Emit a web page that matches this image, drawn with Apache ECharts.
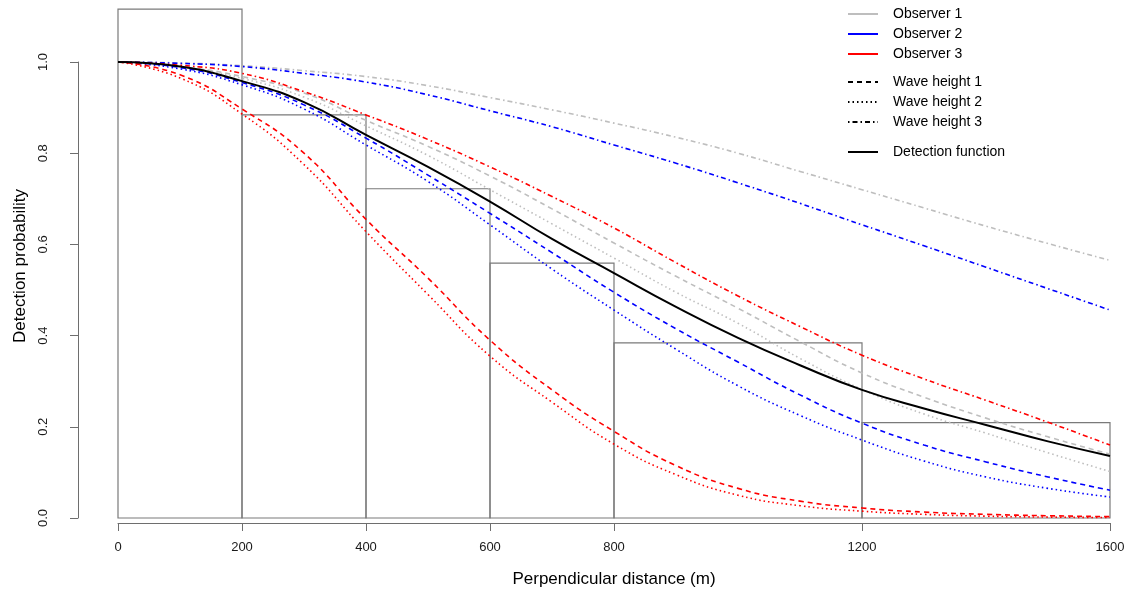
<!DOCTYPE html>
<html>
<head>
<meta charset="utf-8">
<script src="https://cdn.jsdelivr.net/npm/echarts@6/dist/echarts.min.js"></script>
<style>html,body{margin:0;padding:0;background:#fff;}#c{width:1136px;height:594px;}</style>
</head>
<body>
<div id="c"></div>
<script>
// ---- data ----
const distances = [0,100,200,300,400,500,600,700,800,900,1000,1100,1200,1300,1400,1500,1600];
const obs1Wave1 = [1,0.99,0.968,0.932,0.872,0.815,0.75,0.678,0.603,0.53,0.46,0.387,0.318,0.265,0.219,0.178,0.14];
const obs1Wave2 = [1,0.99,0.964,0.923,0.86,0.795,0.72,0.645,0.57,0.495,0.427,0.35,0.282,0.228,0.186,0.143,0.102];
const obs1Wave3 = [1,0.998,0.992,0.981,0.968,0.948,0.922,0.895,0.866,0.835,0.80,0.76,0.72,0.68,0.64,0.602,0.565];
const obs2Wave1 = [1,0.988,0.955,0.906,0.833,0.752,0.668,0.582,0.495,0.415,0.342,0.27,0.208,0.16,0.123,0.09,0.061];
const obs2Wave2 = [1,0.985,0.95,0.897,0.818,0.738,0.643,0.546,0.456,0.37,0.29,0.225,0.171,0.125,0.09,0.065,0.046];
const obs2Wave3 = [1,0.997,0.99,0.975,0.956,0.928,0.893,0.858,0.818,0.778,0.735,0.69,0.643,0.597,0.55,0.503,0.456];
const obs3Wave1 = [1,0.972,0.897,0.80,0.655,0.526,0.39,0.281,0.19,0.115,0.065,0.037,0.022,0.013,0.008,0.005,0.003];
const obs3Wave2 = [1,0.965,0.886,0.775,0.628,0.49,0.355,0.254,0.162,0.095,0.05,0.027,0.015,0.008,0.004,0.002,0.001];
const obs3Wave3 = [1,0.993,0.975,0.935,0.884,0.83,0.77,0.705,0.636,0.56,0.487,0.42,0.357,0.305,0.258,0.21,0.16];
const detectionFn = [1,0.99,0.958,0.912,0.84,0.77,0.694,0.612,0.537,0.463,0.395,0.335,0.281,0.24,0.204,0.168,0.136];

const binEdges = [0,200,400,600,800,1200,1600];
const binHeights = [1.116,0.884,0.722,0.559,0.384,0.209];

const xTicks = [0,200,400,600,800,1200,1600];
const observers = ['Observer 1','Observer 2','Observer 3'];
const waves = ['Wave height 1','Wave height 2','Wave height 3'];

// ---- styles ----
const FONT = '"Liberation Sans", Arial, sans-serif';
const obsColors = ['#BEBEBE','#0000FF','#FF0000'];
const waveDash = [[5,4],[1.5,3],[1.5,3,5,3]];
const curves = [
  [obs1Wave1,obs1Wave2,obs1Wave3],
  [obs2Wave1,obs2Wave2,obs2Wave3],
  [obs3Wave1,obs3Wave2,obs3Wave3]
];

const pairs = arr => distances.map((d,i)=>[d,arr[i]]);
const bins = binHeights.map((h,i)=>[binEdges[i],binEdges[i+1],h]);

const series = [];
series.push({
  type:'custom', name:'hist', clip:false, silent:true, z:1,
  data: bins,
  renderItem: function(params, api){
    const p0 = api.coord([api.value(0), 0]);
    const p1 = api.coord([api.value(1), api.value(2)]);
    return {type:'rect', shape:{x:p0[0], y:p1[1], width:p1[0]-p0[0], height:p0[1]-p1[1]},
      style:{fill:'none', stroke:'#7a7a7a', lineWidth:1.2}};
  }
});
for (let o=0;o<3;o++){
  for (let w=0;w<3;w++){
    series.push({
      type:'line', name:observers[o]+' / '+waves[w], data:pairs(curves[o][w]),
      symbol:'none', smooth:0.5, clip:false, z:3,
      lineStyle:{color:obsColors[o], width:1.6, type:waveDash[w]}
    });
  }
}
series.push({
  type:'line', name:'Detection function', data:pairs(detectionFn),
  symbol:'none', smooth:0.5, z:4,
  lineStyle:{color:'#000', width:2, type:'solid'}, itemStyle:{color:'#000'}
});
// legend-only entries
observers.forEach((n,o)=>series.push({type:'line', name:n, data:[], symbol:'none',
  lineStyle:{color:obsColors[o], width:1.6, type:'solid'}, itemStyle:{color:obsColors[o]}}));
waves.forEach((n,w)=>series.push({type:'line', name:n, data:[], symbol:'none',
  lineStyle:{color:'#000', width:1.3, type:waveDash[w]}, itemStyle:{color:'#000'}}));

const legendBase = {orient:'vertical', left:847, itemWidth:30, itemHeight:14, itemGap:6, padding:0,
  selectedMode:false, itemStyle:{opacity:0, borderWidth:0},
  textStyle:{fontFamily:FONT, fontSize:14, color:'#000', lineHeight:14, padding:[0,0,0,10]}};

const chart = echarts.init(document.getElementById('c'), null, {renderer:'canvas'});
chart.setOption({
  animation:false,
  backgroundColor:'#fff',
  grid:{left:118, right:26, top:62, bottom:76, containLabel:false},
  xAxis:{type:'value', min:0, max:1600, offset:5,
    axisLine:{show:true, onZero:false, lineStyle:{color:'#6e6e6e', width:1}},
    axisTick:{show:true, length:8, customValues:xTicks, lineStyle:{color:'#6e6e6e'}},
    axisLabel:{customValues:xTicks, margin:18, fontFamily:FONT, fontSize:13, color:'#1a1a1a',
      formatter:v=>String(v)},
    splitLine:{show:false},
    name:'Perpendicular distance (m)', nameLocation:'middle', nameGap:48,
    nameTextStyle:{fontFamily:FONT, fontSize:17, color:'#000'}
  },
  yAxis:{type:'value', min:0, max:1, interval:0.2, offset:40, position:'left',
    axisLine:{show:true, onZero:false, lineStyle:{color:'#6e6e6e', width:1}},
    axisTick:{show:true, length:8, lineStyle:{color:'#6e6e6e'}},
    axisLabel:{rotate:90, margin:28, fontFamily:FONT, fontSize:13, color:'#1a1a1a',
      formatter:v=>v.toFixed(1)},
    splitLine:{show:false}
  },
  legend:[
    Object.assign({}, legendBase, {top:7, data:observers}),
    Object.assign({}, legendBase, {top:75, data:waves}),
    Object.assign({}, legendBase, {top:145, data:['Detection function']})
  ],
  graphic:[{type:'text', x:20, y:266, rotation:Math.PI/2,
    style:{text:'Detection probability', fontFamily:FONT, fontSize:17, fill:'#000',
      textAlign:'center', textVerticalAlign:'middle'}}],
  series:series
});
</script>
</body>
</html>
